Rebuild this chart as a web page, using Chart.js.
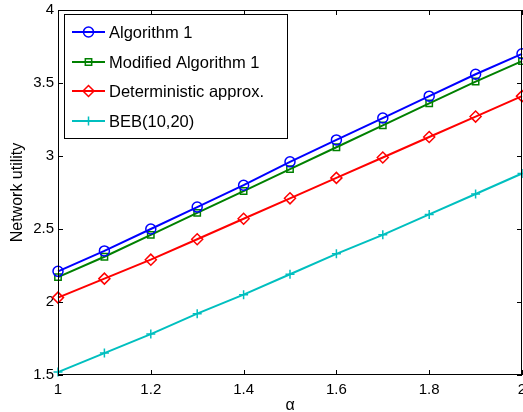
<!DOCTYPE html>
<html lang="en">
<head>
<meta charset="UTF-8">
<title>Network utility vs alpha</title>
<style>
  html, body { margin: 0; padding: 0; background: #fff; }
  #wrap { width: 523px; height: 412px; }
</style>
</head>
<body>
<div id="wrap"><canvas id="chart" width="523" height="412"></canvas></div>
<script src="https://cdn.jsdelivr.net/npm/chart.js@4/dist/chart.umd.min.js"></script>
<script>
  // values
  var alpha = [1, 1.1, 1.2, 1.3, 1.4, 1.5, 1.6, 1.7, 1.8, 1.9, 2];
  var algorithm1 = [2.21, 2.35, 2.50, 2.65, 2.80, 2.96, 3.11, 3.26, 3.41, 3.56, 3.70];
  var modifiedAlg1 = [2.17, 2.31, 2.46, 2.61, 2.76, 2.91, 3.06, 3.21, 3.36, 3.51, 3.65];
  var deterministic = [2.03, 2.16, 2.29, 2.43, 2.57, 2.71, 2.85, 2.99, 3.13, 3.27, 3.41];
  var beb = [1.52, 1.65, 1.78, 1.92, 2.05, 2.19, 2.33, 2.46, 2.60, 2.74, 2.88];
  var seriesNames = ['Algorithm 1', 'Modified Algorithm 1', 'Deterministic approx.', 'BEB(10,20)'];

  var FONT = '"Liberation Sans", Arial, sans-serif';

  function pts(ys) {
    return ys.map(function (y, i) { return { x: alpha[i], y: y }; });
  }

  function ds(label, ys, color, style, radius) {
    return {
      label: label,
      data: pts(ys),
      borderColor: color,
      backgroundColor: 'rgba(0,0,0,0)',
      borderWidth: 2,
      pointStyle: style,
      pointRadius: radius,
      pointBorderWidth: 1.5,
      pointBorderColor: color,
      pointBackgroundColor: 'rgba(0,0,0,0)',
      tension: 0,
      clip: false
    };
  }

  // plain number labels: 4 not 4.0
  function fmt(v) { return String(Math.round(v * 10) / 10); }

  // box with inward ticks on all four sides
  var framePlugin = {
    id: 'frame',
    afterDatasetsDraw: function (chart) {
      var c = chart.ctx, a = chart.chartArea;
      var xs = chart.scales.x, ys = chart.scales.y;
      c.save();
      c.strokeStyle = '#000';
      c.lineWidth = 1;
      c.strokeRect(a.left + 0.5, a.top + 0.5, a.right - a.left - 1, a.bottom - a.top - 1);
      c.beginPath();
      xs.ticks.forEach(function (t) {
        var px = Math.round(xs.getPixelForValue(t.value)) + 0.5;
        c.moveTo(px, a.bottom); c.lineTo(px, a.bottom - 5);
        c.moveTo(px, a.top); c.lineTo(px, a.top + 5);
      });
      ys.ticks.forEach(function (t) {
        var py = Math.round(ys.getPixelForValue(t.value)) + 0.5;
        c.moveTo(a.left, py); c.lineTo(a.left + 5, py);
        c.moveTo(a.right, py); c.lineTo(a.right - 5, py);
      });
      c.stroke();
      c.restore();
    }
  };

  // legend drawn inside the plot, top-left
  var legendPlugin = {
    id: 'innerLegend',
    afterDraw: function (chart) {
      var c = chart.ctx, a = chart.chartArea;
      var bx = a.left + 6, by = a.top + 4, bw = 223, bh = 124;
      c.save();
      c.fillStyle = '#fff';
      c.fillRect(bx, by, bw, bh);
      c.strokeStyle = '#000';
      c.lineWidth = 1;
      c.strokeRect(bx + 0.5, by + 0.5, bw, bh);
      c.textBaseline = 'middle';
      chart.data.datasets.forEach(function (d, i) {
        var y = Math.round(by + 18 + i * 29.7);
        c.strokeStyle = d.borderColor;
        c.lineWidth = 2;
        c.beginPath();
        c.moveTo(bx + 8, y); c.lineTo(bx + 41, y);
        c.stroke();
        c.lineWidth = 1.5;
        c.fillStyle = 'rgba(0,0,0,0)';
        Chart.helpers.drawPoint(c, {
          pointStyle: d.pointStyle, radius: d.pointRadius, borderWidth: 1.5, rotation: 0
        }, bx + 24.5, y);
        c.fillStyle = '#000';
        c.font = '16.5px ' + FONT;
        c.fillText(d.label, bx + 45, y + 1);
      });
      c.restore();
    }
  };

  var chart = new Chart(document.getElementById('chart'), {
    type: 'line',
    data: {
      datasets: [
        ds(seriesNames[0], algorithm1, '#0000ff', 'circle', 5),
        ds(seriesNames[1], modifiedAlg1, '#008000', 'rect', 4.5),
        ds(seriesNames[2], deterministic, '#ff0000', 'rectRot', 5.5),
        ds(seriesNames[3], beb, '#00bfbf', 'cross', 4.5)
      ]
    },
    options: {
      responsive: false,
      animation: false,
      layout: { autoPadding: false, padding: { left: 0, top: 10, right: 1, bottom: 0 } },
      plugins: {
        legend: { display: false },
        tooltip: { enabled: false }
      },
      scales: {
        x: {
          type: 'linear',
          min: 1, max: 2,
          grid: { display: false, drawTicks: false },
          border: { display: false },
          ticks: {
            stepSize: 0.2, padding: 6, color: '#000',
            font: { family: FONT, size: 15 },
            maxRotation: 0,
            callback: fmt
          },
          title: {
            display: true, text: 'α', color: '#000',
            font: { family: FONT, size: 16 },
            padding: { top: 0, bottom: -3 }
          },
          afterFit: function (s) {
            s.height = 37;
            s.paddingLeft = 0;
            s.paddingRight = 0;
          }
        },
        y: {
          min: 1.5, max: 4,
          grid: { display: false, drawTicks: false },
          border: { display: false },
          ticks: {
            stepSize: 0.5, padding: 4, color: '#000',
            font: { family: FONT, size: 15 },
            callback: fmt
          },
          title: {
            display: true, text: 'Network utility', color: '#000',
            font: { family: FONT, size: 16 },
            padding: { top: 8, bottom: 0 }
          },
          afterFit: function (s) {
            s.width = 58;
            s.paddingTop = 0;
            s.paddingBottom = 0;
          }
        }
      }
    },
    plugins: [framePlugin, legendPlugin]
  });
</script>
</body>
</html>
